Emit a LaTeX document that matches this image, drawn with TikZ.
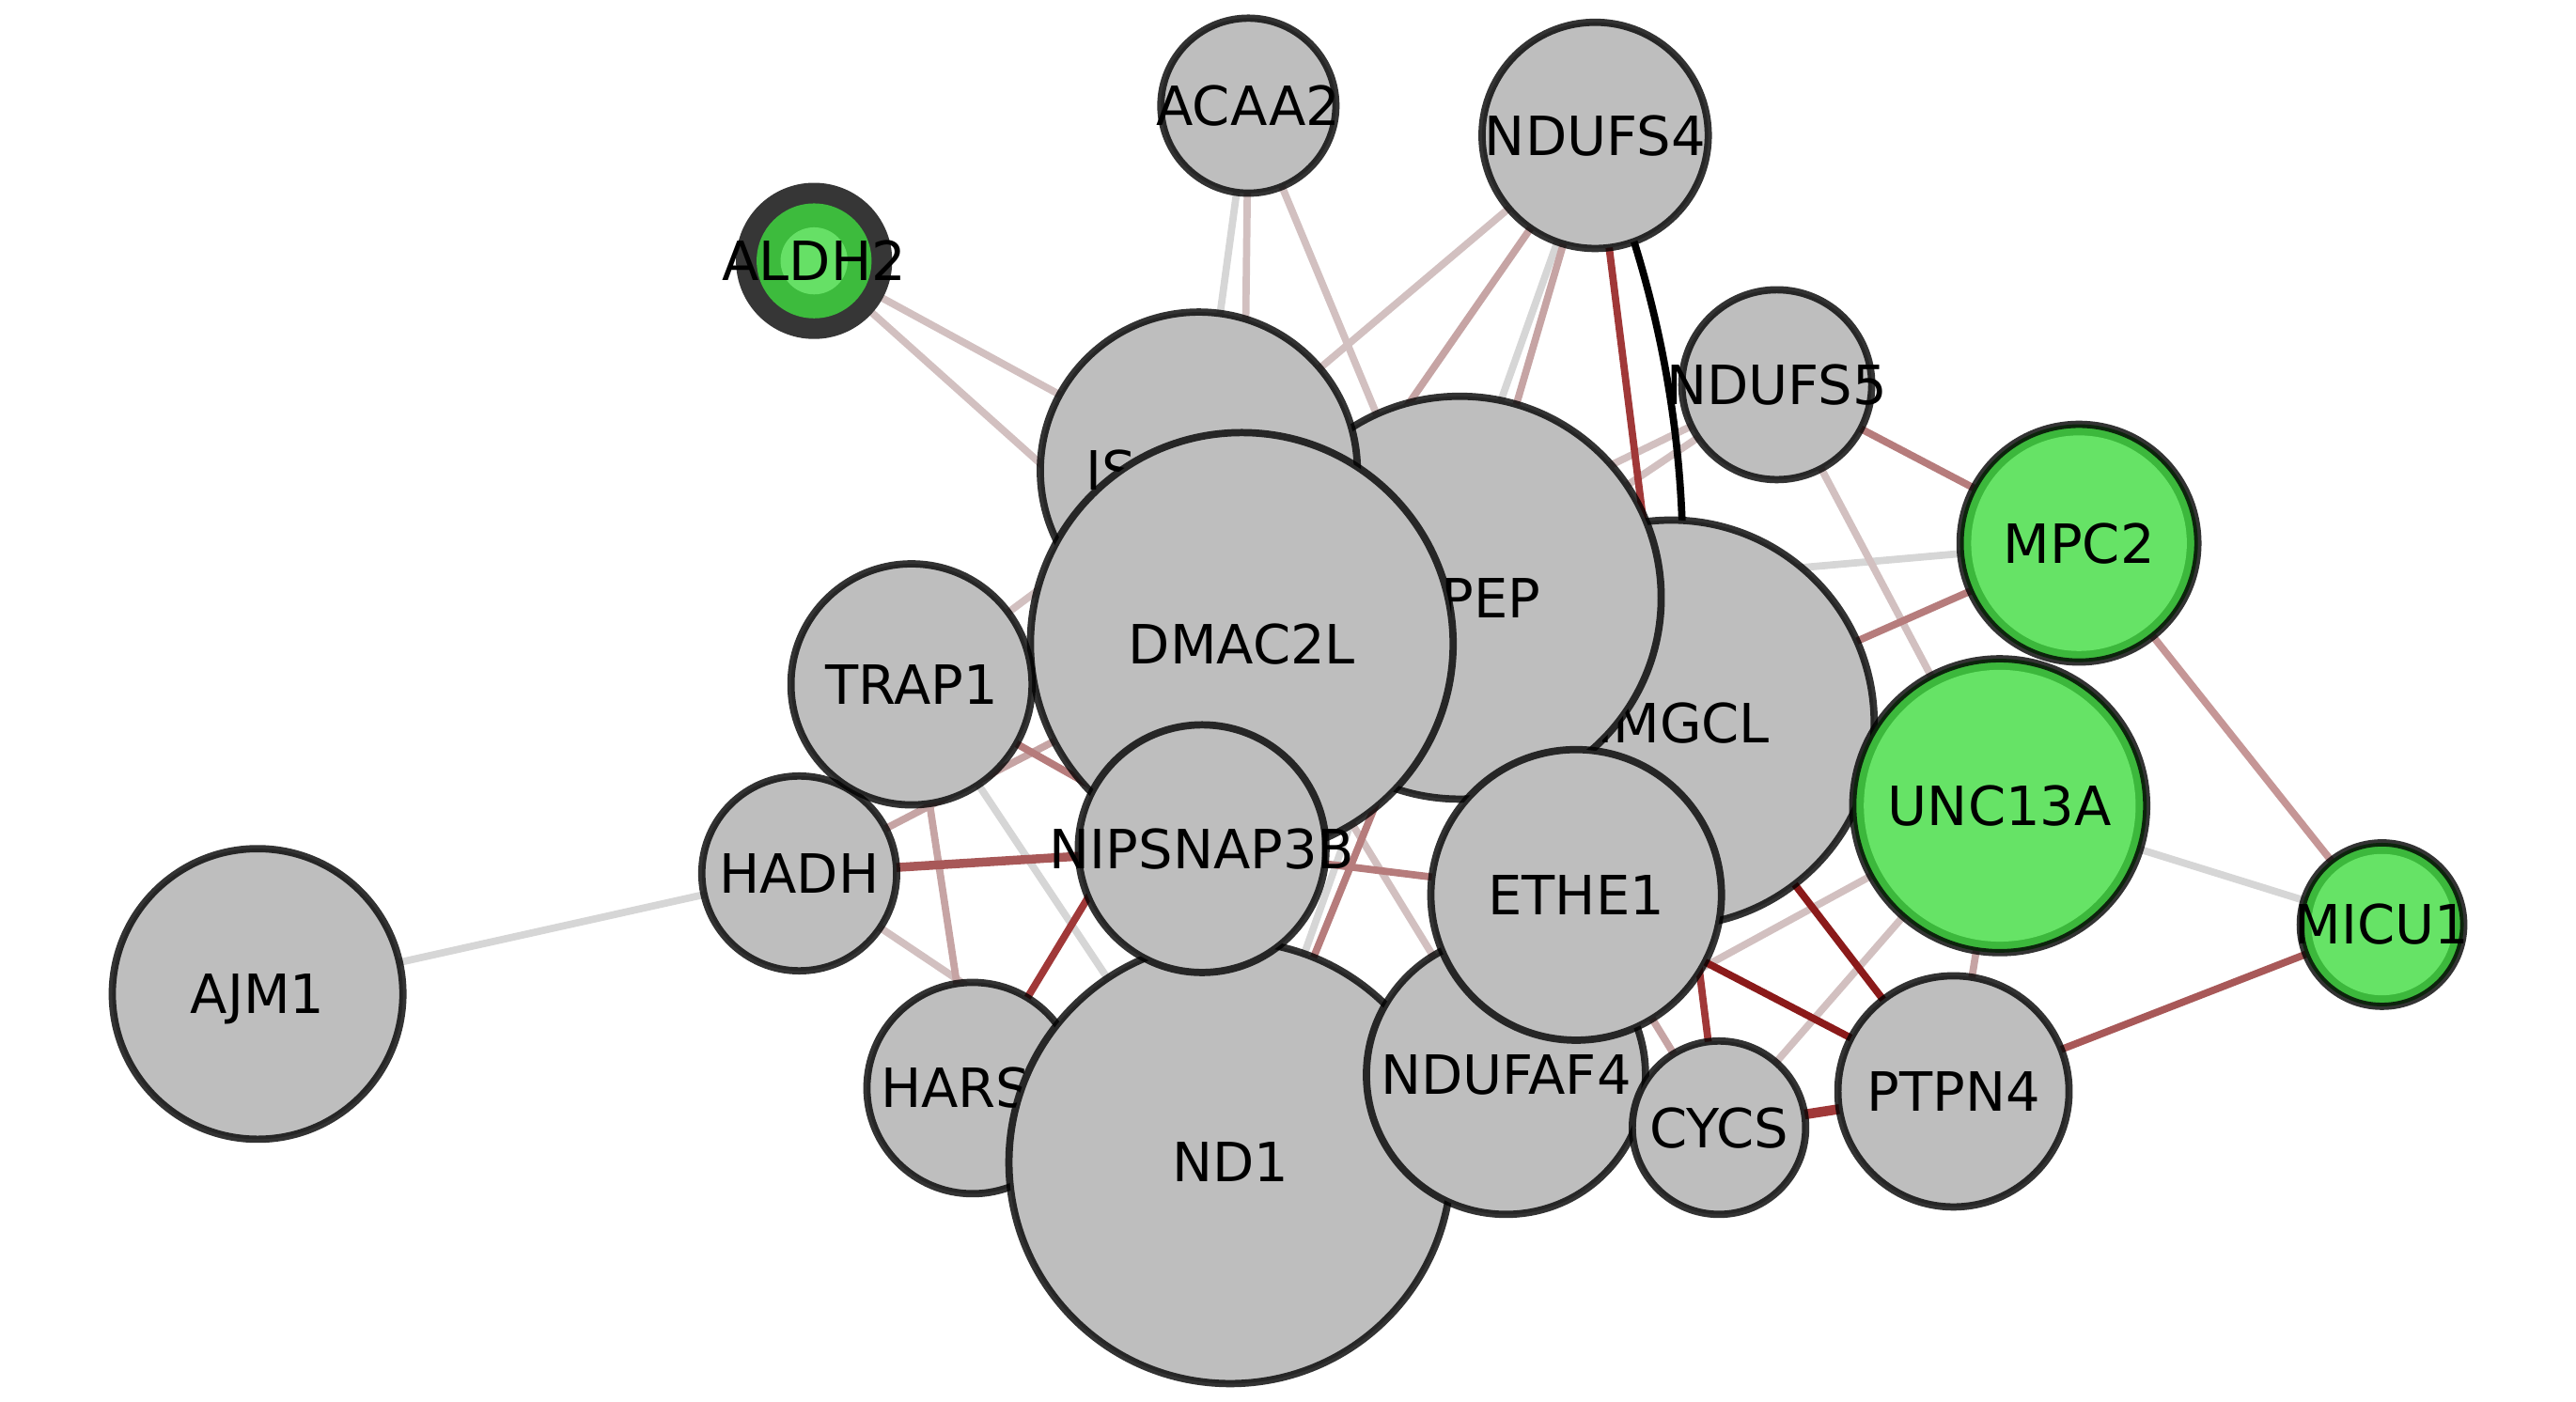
\documentclass[tikz,border=0pt]{standalone}
\usepackage{fontspec}
\newfontfamily\lbfont{DejaVu Sans}
\usetikzlibrary{backgrounds}
\definecolor{nodegray}{RGB}{190,190,190}
\definecolor{ringgreen}{RGB}{60,184,60}
\definecolor{lgreen}{RGB}{102,227,102}
\definecolor{aldhdark}{RGB}{54,54,54}
\definecolor{aldhgreen}{RGB}{61,187,61}
\definecolor{aldhlight}{RGB}{102,224,102}
\definecolor{elgray}{RGB}{214,214,214}
\definecolor{epgray}{RGB}{210,192,192}
\definecolor{epink}{RGB}{198,164,164}
\definecolor{erose}{RGB}{182,124,124}
\definecolor{ebrown}{RGB}{168,88,88}
\definecolor{ered}{RGB}{160,56,56}
\definecolor{edred}{RGB}{139,26,26}
\tikzset{
  gn/.style={circle, draw=black, draw opacity=0.8, line width=4.4pt, fill=nodegray, inner sep=0pt, minimum size=#1},
  lbl/.style={font=\lbfont\fontsize{32.75pt}{39pt}\selectfont, text height=23.9pt, text depth=0pt, inner sep=0pt},
  ed/.style={line width=4.4pt, draw=#1},
}
\begin{document}
\begin{tikzpicture}[x=1pt,y=-1pt]
\useasboundingbox (0,0) rectangle (1560,848.6);
% nodes, bottom to top
\node[gn=176pt, label={[lbl]center:AJM1}] (ajm1) at (156,602) {};
\node[gn=106pt, label={[lbl]center:ACAA2}] (acaa2) at (756,64) {};
\node[gn=137pt, label={[lbl]center:NDUFS4}] (ndufs4) at (966,82) {};
\node[circle, fill=aldhdark, inner sep=0pt, minimum size=94.6pt] (aldh2) at (493,158) {};
\fill[aldhgreen] (aldh2.center) circle (34.8pt);
\fill[aldhlight] (aldh2.center) circle (20.3pt);
\node[lbl] (aldh2-l) at (aldh2.center) {ALDH2};
\node[gn=115pt, label={[lbl]center:NDUFS5}] (ndufs5) at (1076,233) {};
\node[gn=144pt, fill=ringgreen] (mpc2) at (1259,329) {};
\fill[lgreen] (mpc2.center) circle (65.3pt);
\node[lbl] (mpc2-l) at (mpc2.center) {MPC2};
\node[gn=99pt, fill=ringgreen] (micu1) at (1442.5,560) {};
\fill[lgreen] (micu1.center) circle (42.8pt);
\node[lbl] (micu1-l) at (micu1.center) {MICU1};
\node[gn=246pt, label={[lbl]center:HMGCL}] (hmgcl) at (1012,438) {};
\node[gn=244pt, label={[lbl]center:MIPEP}] (pep) at (884,362) {};
\node[gn=192pt] (is) at (726,285) {};
\node[lbl, anchor=west] (is-l) at (657.7,285) {IS};
\node[gn=256pt, label={[lbl]center:DMAC2L}] (dmac2l) at (752,390) {};
\node[gn=118pt, label={[lbl]center:HADH}] (hadh) at (484,529) {};
\node[gn=146pt, label={[lbl]center:TRAP1}] (trap1) at (552,414.5) {};
\node[gn=128pt, label={[lbl]center:HARS2}] (hars2) at (589,659) {};
\node[gn=268pt, label={[lbl]center:ND1}] (nd1) at (745,704) {};
\node[gn=150pt, label={[lbl]center:NIPSNAP3B}] (nipsnap3b) at (728,514) {};
\node[gn=169pt, label={[lbl]center:NDUFAF4}] (ndufaf4) at (912,651) {};
\node[gn=176pt, label={[lbl]center:ETHE1}] (ethe1) at (954.5,542) {};
\node[gn=105pt, label={[lbl]center:CYCS}] (cycs) at (1041,683) {};
\node[gn=140pt, label={[lbl]center:PTPN4}] (ptpn4) at (1183,661) {};
\node[gn=178pt, fill=ringgreen] (unc13a) at (1211,488) {};
\fill[lgreen] (unc13a.center) circle (82.3pt);
\node[lbl] (unc13a-l) at (unc13a.center) {UNC13A};
% edges behind
\begin{pgfonlayer}{background}
\draw[ed=elgray] (ajm1.center) -- (hadh.center);
\draw[ed=elgray] (acaa2.center) -- (is.center);
\draw[ed=elgray] (ndufs4.center) -- (nd1.center);
\draw[ed=elgray] (mpc2.center) -- (pep.center);
\draw[ed=elgray] (unc13a.center) -- (micu1.center);
\draw[ed=elgray] (trap1.center) -- (nd1.center);
\draw[ed=epgray] (aldh2.center) -- (is.center);
\draw[ed=epgray] (aldh2.center) -- (dmac2l.center);
\draw[ed=epgray] (acaa2.center) -- (dmac2l.center);
\draw[ed=epgray] (acaa2.center) -- (ethe1.center);
\draw[ed=epgray] (ndufs4.center) -- (is.center);
\draw[ed=epgray] (trap1.center) -- (is.center);
\draw[ed=epgray] (ndufs5.center) -- (dmac2l.center);
\draw[ed=epgray] (ndufs5.center) -- (pep.center);
\draw[ed=epgray] (ndufs5.center) -- (unc13a.center);
\draw[ed=epgray] (unc13a.center) -- (ndufaf4.center);
\draw[ed=epgray] (unc13a.center) -- (cycs.center);
\draw[ed=epgray] (dmac2l.center) -- (ndufaf4.center);
\draw[ed=epgray] (hadh.center) -- (nd1.center);
\draw[ed=epink] (ndufs4.center) -- (dmac2l.center);
\draw[ed=epink] (ndufs4.center) -- (pep.center);
\draw[ed=epink] (unc13a.center) -- (ptpn4.center);
\draw[ed=epink] (ethe1.center) -- (cycs.center);
\draw[ed=epink] (hadh.center) -- (dmac2l.center);
\draw[ed=epink] (trap1.center) -- (hars2.center);
\draw[ed=erose!80!white] (mpc2.center) -- (micu1.center);
\draw[ed=erose] (ndufs5.center) -- (mpc2.center);
\draw[ed=erose] (mpc2.center) -- (hmgcl.center);
\draw[ed=erose] (trap1.center) -- (nipsnap3b.center);
\draw[ed=erose] (nipsnap3b.center) -- (ethe1.center);
\draw[ed=erose] (pep.center) -- (nd1.center);
\draw[ed=ebrown] (micu1.center) -- (ptpn4.center);
\draw[ed=ebrown, line width=5.4pt] (hadh.center) -- (nipsnap3b.center);
\draw[ed=ered] (ndufs4.center) -- (cycs.center);
\draw[ed=ered] (hars2.center) -- (dmac2l.center);
\draw[ed=ered, line width=6pt] (cycs.center) -- (ptpn4.center);
\draw[ed=edred] (hmgcl.center) -- (ptpn4.center);
\draw[ed=edred] (ethe1.center) -- (ptpn4.center);
\draw[ed=black] (ndufs4.center) .. controls (1014.3,196.4) and (1029.7,315.1) .. (hmgcl.center);
\end{pgfonlayer}
\end{tikzpicture}
\end{document}
